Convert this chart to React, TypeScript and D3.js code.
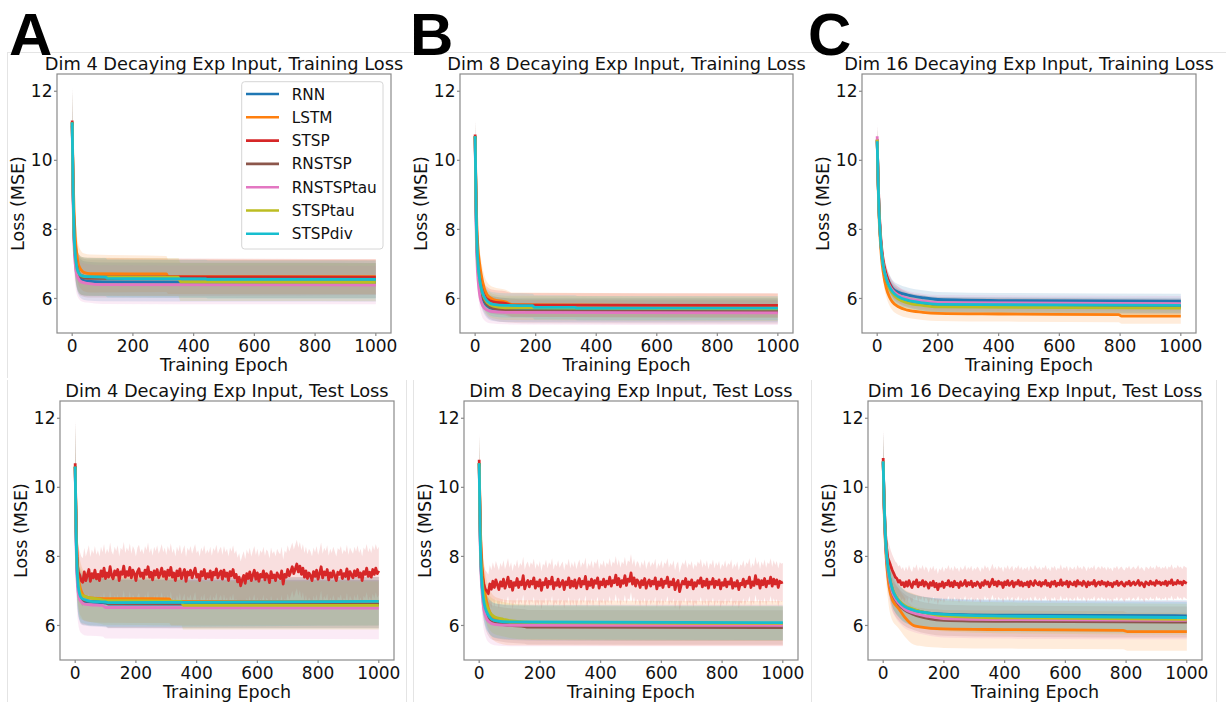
import React from 'react';
import * as d3 from 'd3';

type Pt = [number, number, number]; // [epoch, mean, sd]

const SERIES = ['RNN', 'LSTM', 'STSP', 'RNSTSP', 'RNSTSPtau', 'STSPtau', 'STSPdiv'];
const COLORS = ['#1f77b4', '#ff7f0e', '#d62728', '#8c564b', '#e377c2', '#bcbd22', '#17becf'];
const X_TICKS = [0, 200, 400, 600, 800, 1000];
const Y_TICKS = [6, 8, 10, 12];
const X_DOMAIN: [number, number] = [-50, 1050];
const Y_DOMAIN: [number, number] = [5, 12.5];
const NOISE_START = 25;
const NOISE_STEP = 5;

// ---------- Dim 4, training loss ----------
const trA_RNN: Pt[] = [[0,11.1,1.0],[3,9.0,0.85],[6,7.8,0.7],[10,7.2,0.62],[15,6.85,0.58],[20,6.68,0.56],[30,6.56,0.56],[50,6.5,0.56],[100,6.48,0.56],[1000,6.47,0.56]];
const trA_LSTM: Pt[] = [[0,11.0,1.0],[3,9.6,0.9],[6,8.6,0.8],[10,7.8,0.7],[15,7.3,0.62],[20,7.0,0.58],[30,6.82,0.55],[40,6.75,0.55],[60,6.72,0.55],[310,6.71,0.52],[316,6.63,0.5],[1000,6.63,0.5]];
const trA_STSP: Pt[] = [[0,11.15,1.0],[3,9.2,0.85],[6,8.0,0.72],[10,7.3,0.62],[15,6.95,0.58],[20,6.78,0.56],[30,6.66,0.55],[50,6.63,0.55],[1000,6.62,0.52]];
const trA_RNSTSP: Pt[] = [[0,11.1,1.0],[3,9.1,0.85],[6,7.9,0.7],[10,7.25,0.62],[15,6.9,0.58],[20,6.72,0.56],[30,6.62,0.55],[50,6.58,0.55],[1000,6.56,0.55]];
const trA_RNSTSPtau: Pt[] = [[0,11.0,1.0],[3,8.8,0.85],[6,7.6,0.7],[10,7.0,0.62],[15,6.7,0.58],[20,6.58,0.56],[30,6.48,0.56],[50,6.44,0.56],[100,6.4,0.56],[1000,6.39,0.56]];
const trA_STSPtau: Pt[] = [[0,11.1,1.0],[3,9.1,0.85],[6,7.9,0.7],[10,7.28,0.62],[15,6.92,0.58],[20,6.76,0.56],[30,6.66,0.55],[50,6.63,0.55],[350,6.62,0.55],[356,6.48,0.55],[1000,6.47,0.55]];
const trA_STSPdiv: Pt[] = [[0,11.1,1.0],[3,9.15,0.85],[6,7.95,0.7],[10,7.28,0.62],[15,6.92,0.58],[20,6.76,0.56],[30,6.66,0.55],[50,6.63,0.55],[110,6.62,0.55],[116,6.58,0.55],[440,6.57,0.55],[446,6.55,0.55],[1000,6.55,0.55]];

// ---------- Dim 8, training loss ----------
const trB_RNN: Pt[] = [[0,10.7,0.45],[3,8.5,0.42],[6,7.4,0.4],[10,6.8,0.38],[15,6.4,0.36],[20,6.15,0.36],[30,5.9,0.35],[40,5.78,0.35],[60,5.7,0.35],[100,5.67,0.35],[1000,5.66,0.35]];
const trB_LSTM: Pt[] = [[0,10.7,0.45],[3,9.0,0.45],[6,8.0,0.45],[10,7.4,0.42],[15,7.0,0.4],[20,6.7,0.4],[30,6.3,0.38],[40,6.1,0.37],[60,5.97,0.36],[100,5.9,0.35],[125,5.82,0.35],[1000,5.79,0.35]];
const trB_STSP: Pt[] = [[0,10.75,0.45],[3,8.8,0.42],[6,7.7,0.4],[10,7.0,0.38],[15,6.6,0.37],[20,6.35,0.36],[30,6.1,0.35],[40,5.98,0.35],[60,5.9,0.35],[100,5.86,0.35],[120,5.81,0.35],[1000,5.8,0.35]];
const trB_RNSTSP: Pt[] = [[0,10.7,0.45],[3,8.6,0.42],[6,7.5,0.4],[10,6.85,0.38],[15,6.45,0.36],[20,6.2,0.36],[30,5.95,0.35],[40,5.82,0.35],[60,5.72,0.35],[100,5.66,0.35],[160,5.63,0.35],[1000,5.62,0.35]];
const trB_RNSTSPtau: Pt[] = [[0,10.6,0.45],[3,8.2,0.42],[6,7.1,0.4],[10,6.5,0.38],[15,6.1,0.36],[20,5.9,0.36],[30,5.72,0.35],[50,5.63,0.35],[100,5.6,0.35],[1000,5.58,0.35]];
const trB_STSPtau: Pt[] = [[0,10.7,0.45],[3,8.7,0.42],[6,7.6,0.4],[10,6.95,0.38],[15,6.55,0.36],[20,6.3,0.36],[30,6.02,0.35],[40,5.88,0.35],[60,5.78,0.35],[100,5.73,0.35],[1000,5.7,0.35]];
const trB_STSPdiv: Pt[] = [[0,10.7,0.45],[3,8.7,0.42],[6,7.6,0.4],[10,6.95,0.38],[15,6.55,0.36],[20,6.3,0.36],[30,6.05,0.35],[40,5.92,0.35],[60,5.83,0.35],[100,5.8,0.35],[190,5.79,0.35],[196,5.74,0.35],[330,5.74,0.35],[336,5.72,0.35],[1000,5.72,0.35]];

// ---------- Dim 16, training loss ----------
const trC_RNN: Pt[] = [[0,10.6,0.4],[3,9.4,0.38],[6,8.6,0.35],[10,7.9,0.32],[15,7.35,0.3],[20,7.0,0.28],[30,6.65,0.26],[40,6.45,0.25],[50,6.3,0.24],[70,6.18,0.23],[100,6.1,0.22],[150,6.02,0.22],[200,5.97,0.22],[400,5.94,0.22],[1000,5.92,0.22]];
const trC_LSTM: Pt[] = [[0,10.55,0.4],[3,9.3,0.38],[6,8.4,0.36],[10,7.7,0.33],[15,7.1,0.3],[20,6.75,0.28],[30,6.3,0.26],[40,6.05,0.25],[50,5.9,0.24],[70,5.76,0.23],[100,5.66,0.22],[150,5.6,0.22],[200,5.57,0.22],[400,5.55,0.22],[795,5.53,0.22],[805,5.49,0.22],[1000,5.49,0.22]];
const trC_STSP: Pt[] = [[0,10.6,0.4],[3,9.5,0.38],[6,8.7,0.36],[10,8.0,0.33],[15,7.45,0.3],[20,7.1,0.28],[30,6.7,0.26],[40,6.44,0.25],[50,6.27,0.24],[70,6.1,0.23],[100,5.97,0.22],[150,5.87,0.22],[200,5.82,0.22],[1000,5.78,0.22]];
const trC_RNSTSP: Pt[] = [[0,10.6,0.4],[3,9.4,0.38],[6,8.55,0.35],[10,7.85,0.32],[15,7.3,0.3],[20,6.95,0.28],[30,6.55,0.26],[40,6.32,0.25],[50,6.18,0.24],[70,6.03,0.23],[100,5.93,0.22],[150,5.86,0.22],[200,5.8,0.22],[1000,5.76,0.22]];
const trC_RNSTSPtau: Pt[] = [[0,10.7,0.4],[3,9.4,0.38],[6,8.55,0.35],[10,7.85,0.32],[15,7.3,0.3],[20,6.95,0.28],[30,6.58,0.26],[40,6.38,0.25],[50,6.24,0.24],[70,6.1,0.23],[100,6.0,0.22],[150,5.92,0.22],[200,5.88,0.22],[1000,5.85,0.22]];
const trC_STSPtau: Pt[] = [[0,10.6,0.4],[3,9.4,0.38],[6,8.55,0.35],[10,7.85,0.32],[15,7.3,0.3],[20,6.95,0.28],[30,6.55,0.26],[40,6.3,0.25],[50,6.15,0.24],[70,5.98,0.23],[100,5.87,0.22],[150,5.8,0.22],[200,5.76,0.22],[1000,5.72,0.22]];
const trC_STSPdiv: Pt[] = [[0,10.55,0.4],[3,9.4,0.38],[6,8.55,0.35],[10,7.85,0.32],[15,7.3,0.3],[20,6.95,0.28],[30,6.57,0.26],[40,6.35,0.25],[50,6.2,0.24],[70,6.05,0.23],[100,5.95,0.22],[150,5.87,0.22],[200,5.83,0.22],[1000,5.8,0.22]];

// ---------- Dim 4, test loss ----------
const teA_RNN: Pt[] = [[0,10.6,1.3],[3,8.6,1.1],[6,7.6,0.9],[10,7.1,0.8],[15,6.85,0.75],[20,6.75,0.72],[30,6.7,0.7],[50,6.68,0.7],[100,6.65,0.7],[110,6.62,0.7],[1000,6.62,0.7]];
const teA_LSTM: Pt[] = [[0,10.6,1.3],[3,9.0,1.1],[6,8.0,0.95],[10,7.45,0.85],[15,7.15,0.8],[20,7.0,0.75],[30,6.85,0.72],[50,6.8,0.7],[100,6.78,0.7],[310,6.77,0.7],[316,6.7,0.7],[1000,6.7,0.7]];
const teA_STSP_early: Pt[] = [[0,10.7,1.3],[2,9.5,1.2],[4,8.6,1.0],[6,8.0,0.9],[8,7.7,0.8],[10,7.55,0.75],[15,7.45,0.7],[20,7.3,0.7]];
const teA_STSP_noise = [
  7.25,7.55,7.30,7.45,7.62,7.28,7.50,7.38,7.60,7.35,
  7.48,7.30,7.58,7.42,7.66,7.36,7.52,7.40,7.70,7.44,
  7.35,7.58,7.46,7.62,7.30,7.55,7.48,7.72,7.40,7.56,
  7.45,7.68,7.38,7.60,7.50,7.30,7.55,7.64,7.42,7.52,
  7.36,7.60,7.48,7.70,7.40,7.54,7.32,7.58,7.46,7.62,
  7.38,7.50,7.66,7.42,7.56,7.34,7.60,7.45,7.68,7.40,
  7.52,7.30,7.58,7.44,7.64,7.36,7.50,7.62,7.28,7.55,
  7.46,7.60,7.38,7.52,7.66,7.40,7.48,7.30,7.56,7.44,
  7.62,7.36,7.50,7.40,7.58,7.32,7.54,7.46,7.64,7.38,
  7.50,7.58,7.34,7.60,7.42,7.52,7.30,7.56,7.44,7.62,
  7.38,7.48,7.26,7.40,7.15,7.32,7.45,7.22,7.50,7.36,
  7.55,7.30,7.46,7.60,7.34,7.52,7.28,7.48,7.40,7.58,
  7.32,7.50,7.44,7.24,7.56,7.38,7.46,7.30,7.52,7.42,
  7.36,7.58,7.20,7.48,7.40,7.62,7.44,7.56,7.70,7.50,
  7.64,7.78,7.55,7.72,7.48,7.66,7.40,7.58,7.36,7.52,
  7.44,7.30,7.56,7.42,7.60,7.34,7.50,7.70,7.38,7.55,
  7.46,7.62,7.32,7.52,7.40,7.58,7.44,7.30,7.54,7.48,
  7.60,7.36,7.50,7.42,7.64,7.34,7.56,7.46,7.38,7.58,
  7.44,7.62,7.40,7.52,7.30,7.56,7.48,7.66,7.42,7.54,
  7.40,7.62,7.48,7.66,7.50,7.58,
];
const teA_STSP_SD = 0.7;
const teA_RNSTSP: Pt[] = [[0,10.6,1.3],[3,8.7,1.1],[6,7.7,0.9],[10,7.15,0.8],[15,6.9,0.75],[20,6.78,0.72],[30,6.72,0.7],[50,6.7,0.7],[100,6.68,0.7],[110,6.63,0.7],[1000,6.62,0.7]];
const teA_RNSTSPtau: Pt[] = [[0,10.5,1.3],[3,8.4,1.1],[6,7.4,0.95],[10,6.95,0.9],[15,6.75,0.9],[20,6.68,0.9],[30,6.62,0.9],[50,6.6,0.9],[90,6.58,0.9],[100,6.52,0.9],[1000,6.5,0.9]];
const teA_STSPtau: Pt[] = [[0,10.6,1.3],[3,8.8,1.1],[6,7.8,0.9],[10,7.3,0.8],[15,7.0,0.75],[20,6.9,0.72],[30,6.85,0.7],[50,6.8,0.7],[80,6.76,0.7],[100,6.72,0.7],[350,6.7,0.7],[356,6.58,0.7],[1000,6.58,0.7]];
const teA_STSPdiv: Pt[] = [[0,10.6,1.3],[3,8.7,1.1],[6,7.7,0.9],[10,7.15,0.8],[15,6.9,0.75],[20,6.8,0.72],[30,6.75,0.7],[50,6.7,0.7],[100,6.68,0.7],[110,6.66,0.7],[600,6.68,0.7],[1000,6.7,0.7]];

// ---------- Dim 8, test loss ----------
const teB_RNN: Pt[] = [[0,10.7,0.8],[3,8.8,0.7],[6,7.8,0.65],[10,7.2,0.6],[15,6.8,0.55],[20,6.55,0.52],[30,6.3,0.5],[40,6.2,0.5],[60,6.12,0.5],[100,6.08,0.5],[200,6.06,0.5],[1000,6.05,0.5]];
const teB_LSTM: Pt[] = [[0,10.7,0.8],[3,9.2,0.75],[6,8.3,0.7],[10,7.7,0.68],[15,7.25,0.66],[20,6.9,0.65],[30,6.5,0.65],[40,6.3,0.65],[60,6.15,0.65],[100,6.08,0.65],[1000,6.06,0.65]];
const teB_STSP_early: Pt[] = [[0,10.8,0.8],[2,9.6,0.75],[4,8.7,0.7],[6,8.1,0.65],[8,7.7,0.6],[10,7.45,0.58],[15,7.2,0.56],[20,7.05,0.55]];
const teB_STSP_noise = [
  7.00,6.92,7.20,7.05,7.28,7.10,7.32,7.18,7.04,7.26,
  7.14,7.34,7.08,7.22,7.40,7.12,7.28,7.02,7.24,7.16,
  7.36,7.10,7.26,7.18,7.44,7.06,7.22,7.30,7.12,7.28,
  7.20,7.38,7.08,7.26,7.14,7.32,7.02,7.24,7.18,7.36,
  7.10,7.28,7.20,7.40,7.06,7.24,7.16,7.34,7.12,7.22,
  7.30,7.04,7.26,7.18,7.38,7.10,7.28,7.14,7.32,7.08,
  7.24,7.36,7.12,7.28,7.20,7.42,7.06,7.26,7.16,7.34,
  7.10,7.30,7.22,7.38,7.08,7.26,7.18,7.34,7.12,7.28,
  7.20,7.40,7.14,7.30,7.24,7.46,7.18,7.36,7.12,7.30,
  7.22,7.44,7.16,7.34,7.28,7.52,7.20,7.38,7.14,7.32,
  7.26,7.10,7.30,7.18,7.36,7.08,7.24,7.32,7.14,7.28,
  7.20,7.38,7.06,7.26,7.16,7.34,7.10,7.28,7.22,7.40,
  7.12,7.26,7.18,7.34,7.04,7.22,7.30,6.98,7.16,7.28,
  7.20,7.36,7.10,7.26,7.18,7.32,7.06,7.24,7.14,7.30,
  7.22,7.38,7.12,7.28,7.16,7.34,7.08,7.26,7.20,7.36,
  7.10,7.28,7.18,7.32,7.06,7.24,7.16,7.34,7.12,7.26,
  7.20,7.36,7.08,7.24,7.14,7.30,7.04,7.22,7.18,7.34,
  7.12,7.28,7.22,7.40,7.10,7.26,7.16,7.44,7.20,7.32,
  7.08,7.30,7.18,7.36,7.12,7.28,7.22,7.40,7.14,7.34,
  7.20,7.32,7.10,7.28,7.24,7.26,
];
const teB_STSP_SD = 0.55;
const teB_RNSTSP: Pt[] = [[0,10.7,0.8],[3,8.7,0.7],[6,7.7,0.65],[10,7.1,0.6],[15,6.7,0.55],[20,6.45,0.52],[30,6.2,0.5],[40,6.1,0.5],[60,6.05,0.5],[100,6.0,0.5],[150,5.97,0.5],[160,5.95,0.5],[1000,5.94,0.5]];
const teB_RNSTSPtau: Pt[] = [[0,10.6,0.8],[3,8.5,0.72],[6,7.5,0.68],[10,6.9,0.64],[15,6.5,0.62],[20,6.3,0.6],[30,6.12,0.6],[50,6.03,0.6],[100,6.0,0.6],[1000,6.0,0.6]];
const teB_STSPtau: Pt[] = [[0,10.7,0.8],[3,8.9,0.7],[6,7.9,0.65],[10,7.3,0.6],[15,6.9,0.55],[20,6.7,0.52],[30,6.45,0.5],[50,6.25,0.5],[80,6.18,0.5],[100,6.14,0.5],[200,6.08,0.5],[1000,6.06,0.5]];
const teB_STSPdiv: Pt[] = [[0,10.7,0.8],[3,8.7,0.7],[6,7.7,0.65],[10,7.1,0.6],[15,6.7,0.55],[20,6.5,0.52],[30,6.3,0.5],[50,6.15,0.5],[100,6.1,0.5],[1000,6.08,0.5]];

// ---------- Dim 16, test loss ----------
const teC_RNN: Pt[] = [[0,10.75,0.85],[3,9.6,0.75],[6,8.85,0.68],[10,8.2,0.6],[15,7.75,0.55],[20,7.45,0.52],[30,7.05,0.5],[40,6.85,0.48],[50,6.72,0.47],[70,6.55,0.46],[100,6.45,0.45],[150,6.36,0.45],[200,6.33,0.45],[400,6.3,0.45],[1000,6.28,0.45]];
const teC_LSTM: Pt[] = [[0,10.7,0.85],[3,9.4,0.78],[6,8.6,0.72],[10,7.95,0.68],[15,7.45,0.64],[20,7.1,0.62],[30,6.75,0.6],[40,6.6,0.58],[50,6.5,0.57],[70,6.25,0.56],[100,6.0,0.55],[120,5.96,0.55],[200,5.9,0.55],[400,5.88,0.55],[790,5.86,0.55],[805,5.82,0.55],[1000,5.82,0.55]];
const teC_STSP_early: Pt[] = [[0,10.85,0.85],[2,10.0,0.8],[4,9.4,0.75],[6,8.95,0.7],[8,8.6,0.6],[10,8.35,0.55],[15,7.95,0.5],[20,7.85,0.48]];
const teC_STSP_noise = [
  7.72,7.60,7.50,7.40,7.36,7.26,7.30,7.18,7.24,7.12,
  7.26,7.14,7.30,7.18,7.10,7.26,7.20,7.32,7.12,7.24,
  7.18,7.30,7.14,7.26,7.20,7.08,7.24,7.16,7.28,7.12,
  7.22,7.04,7.20,7.14,7.26,7.10,7.22,7.18,7.30,7.14,
  7.24,7.12,7.28,7.18,7.22,7.10,7.26,7.16,7.20,7.30,
  7.14,7.24,7.18,7.28,7.12,7.22,7.16,7.26,7.20,7.10,
  7.24,7.16,7.30,7.20,7.26,7.12,7.22,7.34,7.18,7.26,
  7.14,7.28,7.20,7.24,7.10,7.26,7.18,7.30,7.16,7.22,
  7.28,7.12,7.24,7.20,7.30,7.16,7.26,7.14,7.22,7.18,
  7.26,7.12,7.28,7.20,7.16,7.30,7.22,7.18,7.26,7.14,
  7.24,7.20,7.30,7.16,7.22,7.12,7.26,7.20,7.28,7.14,
  7.22,7.18,7.32,7.16,7.24,7.20,7.28,7.12,7.26,7.20,
  7.18,7.26,7.14,7.30,7.20,7.24,7.16,7.28,7.22,7.12,
  7.26,7.18,7.24,7.20,7.30,7.14,7.22,7.26,7.18,7.28,
  7.20,7.24,7.14,7.26,7.18,7.22,7.12,7.24,7.20,7.28,
  7.16,7.22,7.26,7.18,7.14,7.24,7.20,7.28,7.16,7.22,
  7.26,7.18,7.22,7.30,7.16,7.24,7.20,7.12,7.26,7.22,
  7.18,7.28,7.20,7.24,7.16,7.30,7.22,7.26,7.18,7.24,
  7.20,7.28,7.16,7.26,7.22,7.32,7.18,7.24,7.20,7.30,
  7.22,7.26,7.18,7.28,7.24,7.22,
];
const teC_STSP_SD = 0.45;
const teC_RNSTSP: Pt[] = [[0,10.75,0.85],[3,9.5,0.75],[6,8.75,0.68],[10,8.1,0.6],[15,7.65,0.55],[20,7.35,0.52],[30,6.95,0.5],[40,6.75,0.48],[50,6.62,0.47],[70,6.45,0.46],[100,6.32,0.45],[150,6.2,0.45],[200,6.15,0.45],[400,6.12,0.45],[1000,6.1,0.45]];
const teC_RNSTSPtau: Pt[] = [[0,10.75,0.85],[3,9.5,0.75],[6,8.75,0.7],[10,8.1,0.64],[15,7.65,0.6],[20,7.35,0.58],[30,6.97,0.56],[40,6.78,0.55],[50,6.65,0.55],[70,6.48,0.55],[100,6.36,0.55],[150,6.26,0.55],[200,6.2,0.55],[400,6.17,0.55],[1000,6.15,0.55]];
const teC_STSPtau: Pt[] = [[0,10.75,0.85],[3,9.6,0.75],[6,8.85,0.68],[10,8.2,0.6],[15,7.75,0.55],[20,7.45,0.52],[30,7.07,0.5],[40,6.88,0.48],[50,6.75,0.47],[70,6.58,0.46],[100,6.47,0.45],[150,6.35,0.45],[200,6.28,0.45],[400,6.22,0.45],[1000,6.18,0.45]];
const teC_STSPdiv: Pt[] = [[0,10.75,0.85],[3,9.6,0.75],[6,8.85,0.68],[10,8.2,0.6],[15,7.75,0.55],[20,7.45,0.52],[30,7.05,0.5],[40,6.85,0.48],[50,6.72,0.47],[70,6.55,0.46],[100,6.44,0.45],[150,6.36,0.45],[200,6.32,0.45],[400,6.27,0.45],[1000,6.23,0.45]];

function noisy(early: Pt[], values: number[], sd: number): Pt[] {
  return [...early, ...values.map((v, i) => [NOISE_START + NOISE_STEP * i, v, sd] as Pt)];
}

const PANELS = [
  { title: 'Dim 4 Decaying Exp Input, Training Loss', x: 57, y: 74, w: 334, h: 259, legend: true, noisyIdx: -1,
    data: [trA_RNN, trA_LSTM, trA_STSP, trA_RNSTSP, trA_RNSTSPtau, trA_STSPtau, trA_STSPdiv] },
  { title: 'Dim 8 Decaying Exp Input, Training Loss', x: 460, y: 74, w: 333, h: 259, legend: false, noisyIdx: -1,
    data: [trB_RNN, trB_LSTM, trB_STSP, trB_RNSTSP, trB_RNSTSPtau, trB_STSPtau, trB_STSPdiv] },
  { title: 'Dim 16 Decaying Exp Input, Training Loss', x: 862, y: 74, w: 334, h: 259, legend: false, noisyIdx: -1,
    data: [trC_RNN, trC_LSTM, trC_STSP, trC_RNSTSP, trC_RNSTSPtau, trC_STSPtau, trC_STSPdiv] },
  { title: 'Dim 4 Decaying Exp Input, Test Loss', x: 60, y: 401, w: 334, h: 259, legend: false, noisyIdx: 2,
    data: [teA_RNN, teA_LSTM, noisy(teA_STSP_early, teA_STSP_noise, teA_STSP_SD), teA_RNSTSP, teA_RNSTSPtau, teA_STSPtau, teA_STSPdiv] },
  { title: 'Dim 8 Decaying Exp Input, Test Loss', x: 464, y: 401, w: 334, h: 259, legend: false, noisyIdx: 2,
    data: [teB_RNN, teB_LSTM, noisy(teB_STSP_early, teB_STSP_noise, teB_STSP_SD), teB_RNSTSP, teB_RNSTSPtau, teB_STSPtau, teB_STSPdiv] },
  { title: 'Dim 16 Decaying Exp Input, Test Loss', x: 868, y: 401, w: 334, h: 259, legend: false, noisyIdx: 2,
    data: [teC_RNN, teC_LSTM, noisy(teC_STSP_early, teC_STSP_noise, teC_STSP_SD), teC_RNSTSP, teC_RNSTSPtau, teC_STSPtau, teC_STSPdiv] },
];

const LETTERS = [
  { t: 'A', x: 9 }, { t: 'B', x: 410 }, { t: 'C', x: 808 },
];

const FONT = 'DejaVu Sans, sans-serif';
const SPINE = '#8a8a8a';

function Panel({ p }: { p: typeof PANELS[number] }) {
  const xs = d3.scaleLinear().domain(X_DOMAIN).range([p.x, p.x + p.w]);
  const ys = d3.scaleLinear().domain(Y_DOMAIN).range([p.y + p.h, p.y]);
  const smooth = d3.line<Pt>().x(d => xs(d[0])).y(d => ys(d[1])).curve(d3.curveMonotoneX);
  const sharp = d3.line<Pt>().x(d => xs(d[0])).y(d => ys(d[1])).curve(d3.curveLinear);
  const areaSmooth = d3.area<Pt>().x(d => xs(d[0])).y0(d => ys(d[1] - d[2])).y1(d => ys(d[1] + d[2])).curve(d3.curveMonotoneX);
  const areaSharp = d3.area<Pt>().x(d => xs(d[0])).y0(d => ys(d[1] - d[2])).y1(d => ys(d[1] + d[2])).curve(d3.curveLinear);
  const clipId = `clip-${p.x}-${p.y}`;
  return (
    <g>
      <defs>
        <clipPath id={clipId}><rect x={p.x} y={p.y} width={p.w} height={p.h} /></clipPath>
      </defs>
      <g clipPath={`url(#${clipId})`}>
        {p.data.map((s, i) => (
          <path key={'a' + i} d={(i === p.noisyIdx ? areaSharp(s) : areaSmooth(s)) || ''} fill={COLORS[i]} fillOpacity={0.15} stroke="none" />
        ))}
        {p.data.map((s, i) => (
          <path key={'l' + i} d={(i === p.noisyIdx ? sharp(s) : smooth(s)) || ''} fill="none" stroke={COLORS[i]} strokeWidth={2.8} strokeLinejoin="round" />
        ))}
      </g>
      <rect x={p.x} y={p.y} width={p.w} height={p.h} fill="none" stroke={SPINE} strokeWidth={1.2} />
      {X_TICKS.map(t => (
        <g key={'x' + t}>
          <line x1={xs(t)} x2={xs(t)} y1={p.y + p.h} y2={p.y + p.h + 3} stroke={SPINE} strokeWidth={1.2} />
          <text x={xs(t)} y={p.y + p.h + 18.5} textAnchor="middle" fontSize={17} fontFamily={FONT} fill="#111">{t}</text>
        </g>
      ))}
      {Y_TICKS.map(t => (
        <g key={'y' + t}>
          <line x1={p.x - 3} x2={p.x} y1={ys(t)} y2={ys(t)} stroke={SPINE} strokeWidth={1.2} />
          <text x={p.x - 4.5} y={ys(t)} dy="0.36em" textAnchor="end" fontSize={17} fontFamily={FONT} fill="#111">{t}</text>
        </g>
      ))}
      <text x={p.x + p.w / 2} y={p.y - 4.5} textAnchor="middle" fontSize={17.8} fontFamily={FONT} fill="#111">{p.title}</text>
      <text x={p.x + p.w / 2} y={p.y + p.h + 37.5} textAnchor="middle" fontSize={17.5} fontFamily={FONT} fill="#111">Training Epoch</text>
      <text transform={`translate(${p.x - 33},${p.y + p.h / 2}) rotate(-90)`} textAnchor="middle" fontSize={17.5} fontFamily={FONT} fill="#111">Loss (MSE)</text>
      {p.legend && (
        <g>
          <rect x={241.7} y={81.7} width={141.3} height={167.3} rx={3} fill="white" fillOpacity={0.85} stroke="#d6d6d6" strokeWidth={1} />
          {SERIES.map((name, i) => (
            <g key={name}>
              <line x1={246} x2={279} y1={94 + 23.3 * i} y2={94 + 23.3 * i} stroke={COLORS[i]} strokeWidth={2.6} />
              <text x={291.7} y={94 + 23.3 * i} dy="0.36em" fontSize={15.3} fontFamily={FONT} fill="#111">{name}</text>
            </g>
          ))}
        </g>
      )}
    </g>
  );
}

export default function App() {
  const sep = '#e4e4e4';
  return (
    <svg width={1226} height={702} style={{ position: 'absolute', left: 0, top: 0, background: 'white' }}>
      <rect x={0} y={0} width={1226} height={702} fill="white" />
      <line x1={7} x2={1226} y1={52.5} y2={52.5} stroke={sep} />
      <line x1={7.5} x2={7.5} y1={52} y2={378} stroke={sep} />
      {[7.5, 406.5, 413.5, 811.5, 1216.5].map(x => (
        <line key={x} x1={x} x2={x} y1={380} y2={702} stroke={sep} />
      ))}
      {PANELS.map((p, i) => <Panel key={i} p={p} />)}
      {LETTERS.map(l => (
        <text key={l.t} x={l.x} y={55} fontSize={60} fontWeight="bold" fontFamily="Liberation Sans, Arial, sans-serif" fill="#000">{l.t}</text>
      ))}
    </svg>
  );
}
